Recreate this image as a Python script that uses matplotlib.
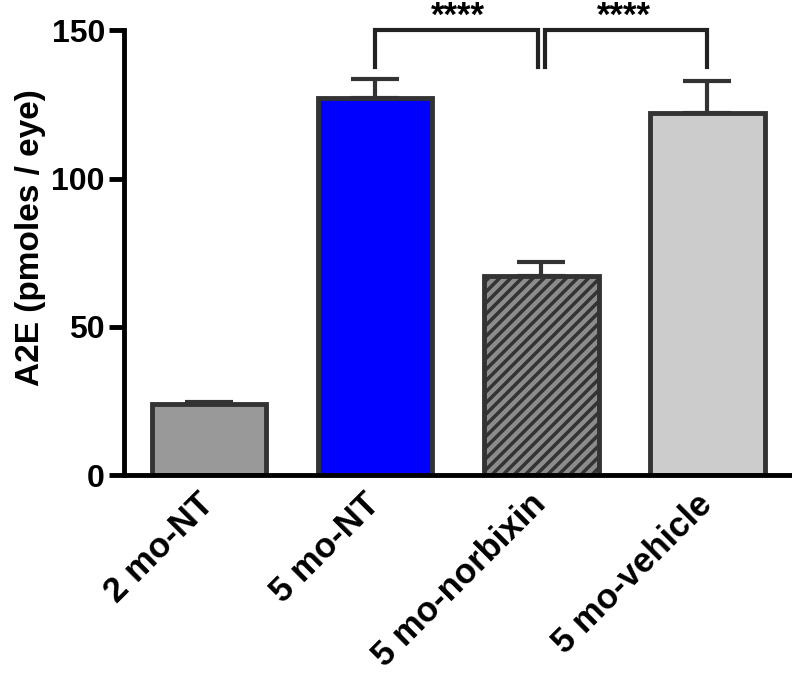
import numpy as np
import matplotlib.pyplot as plt
import matplotlib.transforms as mtransforms

plt.rcParams['font.family'] = ['Liberation Sans', 'DejaVu Sans']
plt.rcParams['hatch.linewidth'] = 2.5
plt.rcParams['hatch.color'] = '#222222'

# data
groups = ['2 mo-NT', '5 mo-NT', '5 mo-norbixin', '5 mo-vehicle']
means = [24, 127, 67, 122]
sems = [0.8, 6.5, 5.0, 11.0]
colors = ['#999999', '#0000FF', '#8C8C8C', '#CCCCCC']
hatches = ['', '', '///', '']

fig = plt.figure(figsize=(7.92, 6.73), dpi=100)
ax = fig.add_axes([0.157, 0.294, 0.843, 0.661])

x = np.arange(len(groups))
edge = '#333333'
for xi, m, s, c, h in zip(x, means, sems, colors, hatches):
    ax.bar(xi, m, width=0.69, color=c, edgecolor=edge, linewidth=3.5,
           hatch=h, zorder=2)
    # upward-only error bar
    ax.errorbar(xi, m, yerr=[[0], [s]], fmt='none', ecolor=edge,
                elinewidth=3, capsize=17, capthick=3, zorder=1)

# significance brackets
top, leg = 150, 137.5
ax.plot([1, 1, 1.98, 1.98], [leg, top, top, leg], color='#222222', lw=3,
        clip_on=False, solid_joinstyle='miter')
ax.plot([2.02, 2.02, 3, 3], [leg, top, top, leg], color='#222222', lw=3,
        clip_on=False, solid_joinstyle='miter')
for xs in [1.5, 2.5]:
    ax.text(xs, 160.2, '****', ha='center', va='top', fontsize=25,
            fontweight='bold', clip_on=False)

ax.set_xlim(-0.51, 3.51)
ax.set_ylim(0, 150)
ax.set_yticks([0, 50, 100, 150])
ax.set_xticks(x)
ax.set_xticklabels(groups, rotation=45, ha='right', rotation_mode='anchor',
                   fontsize=25, fontweight='bold')
ax.tick_params(axis='x', length=0, pad=9)
shift = mtransforms.ScaledTranslation(-0.12, 0, fig.dpi_scale_trans)
for lab in ax.get_xticklabels():
    lab.set_transform(lab.get_transform() + shift)
ax.tick_params(axis='y', length=11, width=3.5, labelsize=23, pad=3)
for lab in ax.get_yticklabels():
    lab.set_fontweight('bold')
ax.set_ylabel('A2E (pmoles / eye)', fontsize=24, fontweight='bold')
ax.yaxis.set_label_coords(-0.117, 0.535)

ax.spines['top'].set_visible(False)
ax.spines['right'].set_visible(False)
ax.spines['left'].set_linewidth(3.5)
ax.spines['bottom'].set_linewidth(3.5)

fig.savefig('out.png', dpi=100, facecolor='white')
